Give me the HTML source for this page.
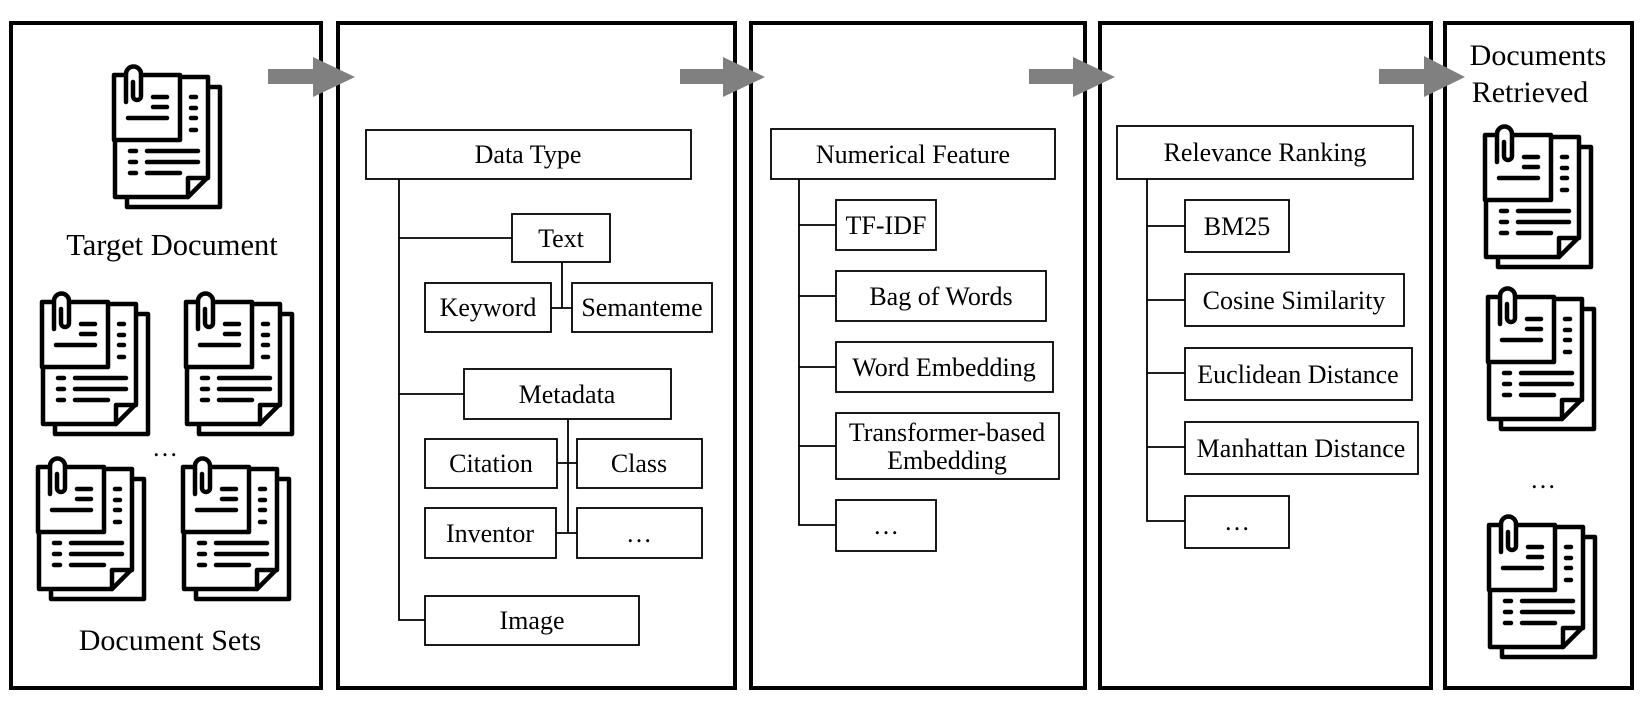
<!DOCTYPE html>
<html><head><meta charset="utf-8"><style>
html,body{margin:0;padding:0;background:#fff}
svg{display:block}
text{font-family:"Liberation Serif",serif;fill:#000}
</style></head><body>
<svg width="1644" height="706" viewBox="0 0 1644 706" xmlns="http://www.w3.org/2000/svg">
<defs>
<g id="doc" fill="none" stroke="#000" stroke-width="4.5" stroke-linecap="round" stroke-linejoin="round">
  <path d="M98,25 H110 V145 H17 V135" fill="#fff"/>
  <path d="M5,15 H98 V115 L78,135 H5 Z" fill="#fff"/>
  <path d="M78,135 V116 H98"/>
  <rect x="4" y="13" width="66" height="65" fill="#fff"/>
  <path d="M16,40 V12 a7.5,7.5 0 0 1 15,0 V34 a4,4 0 0 1 -8,0 V20" fill="#fff"/>
  <path d="M43,35 H57 M43,45 H57 M18,56 H57"/>
  <path d="M81,35 H86 M81,46 H86 M81,56 H86 M81,68 H86"/>
  <path d="M20,89 H26 M37,89 H88 M20,100 H26 M37,100 H88 M20,111 H26 M37,111 H70"/>
</g>
</defs>

<g fill="none" stroke="#000" stroke-width="4">
<rect x="11" y="23" width="310" height="665"/>
<rect x="338" y="23" width="397" height="665"/>
<rect x="751" y="23" width="334" height="665"/>
<rect x="1100" y="23" width="331" height="665"/>
<rect x="1445" y="23" width="187" height="665"/>
</g>

<g fill="#808080">
<path d="M268,69 H313 V57 L355,77 L313,97 V84 H268 Z"/>
<path d="M680,69 H723 V57 L765,77 L723,97 V84 H680 Z"/>
<path d="M1029,69 H1073 V57 L1115,77 L1073,97 V84 H1029 Z"/>
<path d="M1379,69 H1424 V56 L1465,77 L1424,97 V84 H1379 Z"/>
</g>

<use href="#doc" x="110" y="62"/>
<text x="172" y="255" font-size="30.5" text-anchor="middle">Target Document</text>
<use href="#doc" x="38" y="289"/>
<use href="#doc" x="182" y="289"/>
<use href="#doc" x="34" y="454"/>
<use href="#doc" x="179" y="454"/>
<text x="165" y="456" font-size="26" text-anchor="middle">…</text>
<text x="170" y="650" font-size="30" text-anchor="middle">Document Sets</text>

<g fill="none" stroke="#000" stroke-width="1.8">
<path d="M399,179 V620 H425"/>
<path d="M399,238 H512"/>
<path d="M562,262 V308 M551,308 H572"/>
<path d="M399,394 H464"/>
<path d="M568,419 V533 M557,463 H577 M556,533 H577"/>
<rect x="366" y="130" width="325" height="49" fill="#fff"/>
<rect x="512" y="214" width="98" height="48"/>
<rect x="425" y="283" width="126" height="49"/>
<rect x="572" y="283" width="140" height="49"/>
<rect x="464" y="369" width="207" height="50"/>
<rect x="425" y="439" width="132" height="49"/>
<rect x="577" y="439" width="125" height="49"/>
<rect x="425" y="508" width="131" height="50"/>
<rect x="577" y="508" width="125" height="50"/>
<rect x="425" y="596" width="214" height="49"/>
</g>
<g font-size="26" text-anchor="middle">
<text x="528" y="163">Data Type</text>
<text x="561" y="247">Text</text>
<text x="488" y="316">Keyword</text>
<text x="642" y="316">Semanteme</text>
<text x="567" y="403">Metadata</text>
<text x="491" y="472">Citation</text>
<text x="639" y="472">Class</text>
<text x="490" y="542">Inventor</text>
<text x="639" y="542">…</text>
<text x="532" y="629">Image</text>
</g>

<g fill="none" stroke="#000" stroke-width="1.8">
<path d="M799,179 V525 H836"/>
<path d="M799,225 H836 M799,296 H836 M799,367 H836 M799,446 H836"/>
<rect x="771" y="129" width="284" height="50"/>
<rect x="836" y="200" width="100" height="50"/>
<rect x="836" y="271" width="210" height="50"/>
<rect x="836" y="342" width="217" height="50"/>
<rect x="836" y="413" width="223" height="66"/>
<rect x="836" y="500" width="100" height="51"/>
</g>
<g font-size="26" text-anchor="middle">
<text x="913" y="163">Numerical Feature</text>
<text x="886" y="234">TF-IDF</text>
<text x="941" y="305">Bag of Words</text>
<text x="944" y="376">Word Embedding</text>
<text x="947" y="441">Transformer-based</text>
<text x="947" y="469">Embedding</text>
<text x="886" y="534">…</text>
</g>

<g fill="none" stroke="#000" stroke-width="1.8">
<path d="M1147,179 V521 H1185"/>
<path d="M1147,226 H1185 M1147,300 H1185 M1147,373 H1185 M1147,447 H1185"/>
<rect x="1117" y="126" width="296" height="53"/>
<rect x="1185" y="200" width="104" height="52"/>
<rect x="1185" y="274" width="219" height="52"/>
<rect x="1185" y="348" width="227" height="52"/>
<rect x="1185" y="422" width="233" height="52"/>
<rect x="1185" y="496" width="104" height="52"/>
</g>
<g font-size="26" text-anchor="middle">
<text x="1265" y="161">Relevance Ranking</text>
<text x="1237" y="235">BM25</text>
<text x="1294" y="309">Cosine Similarity</text>
<text x="1298" y="383">Euclidean Distance</text>
<text x="1301" y="457">Manhattan Distance</text>
<text x="1237" y="530">…</text>
</g>

<text x="1538" y="65" font-size="30" text-anchor="middle">Documents</text>
<text x="1530" y="102" font-size="30" text-anchor="middle">Retrieved</text>
<use href="#doc" x="1481" y="122"/>
<use href="#doc" x="1484" y="284"/>
<use href="#doc" x="1485" y="512"/>
<text x="1543" y="488" font-size="26" text-anchor="middle">…</text>
</svg>
</body></html>
